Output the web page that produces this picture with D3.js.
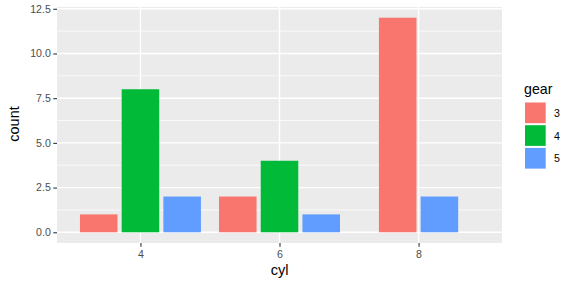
<!DOCTYPE html>
<html>
<head>
<meta charset="utf-8">
<script src="https://cdn.jsdelivr.net/npm/d3@7"></script>
<style>
  body { margin: 0; background: #fff; }
  text { font-family: "Liberation Sans", Arial, sans-serif; }
</style>
</head>
<body>
<div id="chart"></div>
<script>
const cyls = ['4', '6', '8'];
const gears = ['3', '4', '5'];
const gearColors = ['#F8766D', '#00BA38', '#619CFF'];
// counts per cyl for gear 3, 4, 5 (null = no bar)
const countsCyl4 = [1, 8, 2];
const countsCyl6 = [2, 4, 1];
const countsCyl8 = [12, null, 2];
const yTicks = [0, 2.5, 5, 7.5, 10, 12.5];
const yMinor = [1.25, 3.75, 6.25, 8.75, 11.25];

const width = 576, height = 288;
const panel = {left: 57, right: 502, top: 7, bottom: 243};

const rows = [countsCyl4, countsCyl6, countsCyl8];
const data = [];
rows.forEach((vals, i) => {
    const present = gears.filter((g, j) => vals[j] != null);
    vals.forEach((v, j) => {
        if (v == null) return;
        data.push({cyl: cyls[i], gear: gears[j], count: v, slot: present.indexOf(gears[j]), n: present.length});
    });
});

const svg = d3.select('#chart')
    .append('svg')
    .attr('width', width)
    .attr('height', height);

// discrete x with ggplot's 0.6 expansion
const x = d3.scalePoint()
    .domain(cyls)
    .range([panel.left, panel.right])
    .padding(0.6);
const step = x.step();

const y = d3.scaleLinear()
    .domain([-0.6, 12.6])
    .range([panel.bottom, panel.top]);

const color = d3.scaleOrdinal().domain(gears).range(gearColors);

svg.append('rect')
    .attr('x', panel.left)
    .attr('y', panel.top)
    .attr('width', panel.right - panel.left)
    .attr('height', panel.bottom - panel.top)
    .attr('fill', '#EBEBEB');

// grid
svg.append('g').selectAll('line')
    .data(yMinor)
    .enter().append('line')
    .attr('x1', panel.left).attr('x2', panel.right)
    .attr('y1', d => y(d)).attr('y2', d => y(d))
    .attr('stroke', '#fff').attr('stroke-width', 0.7);

svg.append('g').selectAll('line')
    .data(yTicks)
    .enter().append('line')
    .attr('x1', panel.left).attr('x2', panel.right)
    .attr('y1', d => y(d)).attr('y2', d => y(d))
    .attr('stroke', '#fff').attr('stroke-width', 1.4);

svg.append('g').selectAll('line')
    .data(cyls)
    .enter().append('line')
    .attr('x1', d => x(d)).attr('x2', d => x(d))
    .attr('y1', panel.top).attr('y2', panel.bottom)
    .attr('stroke', '#fff').attr('stroke-width', 1.4);

// bars, dodge2 with preserve = "single"
const slotW = step * 0.9 / 3;
const barW = slotW * 0.9;
svg.append('g').selectAll('rect')
    .data(data)
    .enter().append('rect')
    .attr('x', d => x(d.cyl) - d.n * slotW / 2 + d.slot * slotW + (slotW - barW) / 2)
    .attr('width', barW)
    .attr('y', d => y(d.count))
    .attr('height', d => y(0) - y(d.count))
    .attr('fill', d => color(d.gear));

// axes
const yAxis = svg.append('g')
    .attr('transform', `translate(${panel.left},0)`)
    .call(d3.axisLeft(y).tickValues(yTicks).tickFormat(d3.format('.1f')).tickSize(3.7).tickPadding(2.5));
const xAxis = svg.append('g')
    .attr('transform', `translate(0,${panel.bottom})`)
    .call(d3.axisBottom(x).tickSize(3.7).tickPadding(3.5));
[xAxis, yAxis].forEach(a => {
    a.select('.domain').remove();
    a.selectAll('.tick line').attr('stroke', '#333333').attr('stroke-width', 1.1);
    a.selectAll('.tick text')
        .attr('fill', '#4D4D4D')
        .style('font-size', '10.6px')
        .style('font-family', '"Liberation Sans", Arial, sans-serif');
});

svg.append('text')
    .attr('x', x('6'))
    .attr('y', 275)
    .attr('text-anchor', 'middle')
    .attr('font-size', '14.5px')
    .text('cyl');

svg.append('text')
    .attr('transform', `translate(18.5,${(panel.top + panel.bottom) / 2 - 1}) rotate(-90)`)
    .attr('text-anchor', 'middle')
    .attr('font-size', '14.5px')
    .text('count');

// legend
const legend = svg.append('g').attr('transform', 'translate(524,101.5)');
legend.append('text')
    .attr('x', 0)
    .attr('y', -8)
    .attr('font-size', '14.2px')
    .text('gear');
const keyH = 22.7;
legend.selectAll('rect')
    .data(gears)
    .enter().append('rect')
    .attr('x', 1)
    .attr('y', (d, i) => i * keyH + 1)
    .attr('width', keyH - 2)
    .attr('height', keyH - 2)
    .attr('fill', d => color(d));
legend.selectAll('text.lab')
    .data(gears)
    .enter().append('text')
    .attr('class', 'lab')
    .attr('x', 30)
    .attr('y', (d, i) => i * keyH + keyH / 2 + 4)
    .attr('font-size', '10.6px')
    .text(d => d);
</script>
</body>
</html>
